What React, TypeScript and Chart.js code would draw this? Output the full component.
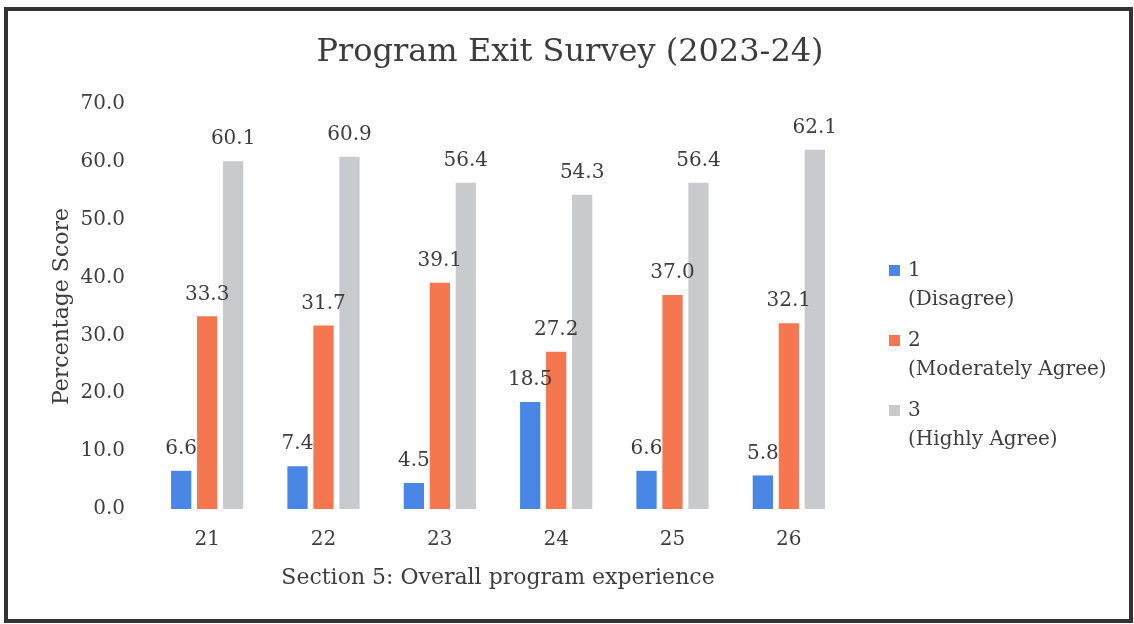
import React, { useEffect, useRef } from "react";
import { Chart, registerables } from "chart.js";

Chart.register(...registerables);

const categories = ["21", "22", "23", "24", "25", "26"];
const disagree = [6.6, 7.4, 4.5, 18.5, 6.6, 5.8];
const moderatelyAgree = [33.3, 31.7, 39.1, 27.2, 37.0, 32.1];
const highlyAgree = [60.1, 60.9, 56.4, 54.3, 56.4, 62.1];
const seriesLabels = [
  ["1", "(Disagree)"],
  ["2", "(Moderately Agree)"],
  ["3", "(Highly Agree)"],
];
const seriesColors = ["#4a86e6", "#f47750", "#c9cacd"];
const titleText = "Program Exit Survey (2023-24)";
const xTitle = "Section 5: Overall program experience";
const yTitle = "Percentage Score";

const FONT = "'DejaVu Serif', serif";
const TEXT = "#3d3d3d";

const framePlugin = {
  id: "frame",
  beforeDraw(chart: any) {
    const ctx = chart.ctx;
    ctx.save();
    ctx.fillStyle = "#ffffff";
    ctx.fillRect(0, 0, chart.width, chart.height);
    ctx.strokeStyle = "#333333";
    ctx.lineWidth = 4;
    ctx.strokeRect(6, 9, chart.width - 6 - 3, chart.height - 9 - 3);
    ctx.restore();
  },
};

const centeredTitlePlugin = {
  id: "centeredTitle",
  afterDraw(chart: any) {
    const ctx = chart.ctx;
    ctx.save();
    ctx.font = `32px ${FONT}`;
    ctx.fillStyle = TEXT;
    ctx.textAlign = "center";
    ctx.textBaseline = "middle";
    ctx.fillText(titleText, 570, 53);
    ctx.restore();
  },
};

const valueLabelPlugin = {
  id: "valueLabels",
  afterDatasetsDraw(chart: any) {
    const ctx = chart.ctx;
    ctx.save();
    ctx.font = `20px ${FONT}`;
    ctx.fillStyle = TEXT;
    ctx.textAlign = "center";
    ctx.textBaseline = "middle";
    chart.data.datasets.forEach((ds: any, i: number) => {
      const meta = chart.getDatasetMeta(i);
      meta.data.forEach((bar: any, j: number) => {
        const v = ds.data[j];
        ctx.fillText(Number(v).toFixed(1), bar.x, bar.y - 22);
      });
    });
    ctx.restore();
  },
};

const sideLegendPlugin = {
  id: "sideLegend",
  afterDraw(chart: any) {
    const ctx = chart.ctx;
    const area = chart.chartArea;
    const boxX = area.right + 42;
    const textX = boxX + 19;
    let y = area.top + 167;
    ctx.save();
    ctx.font = `20px ${FONT}`;
    ctx.textAlign = "left";
    ctx.textBaseline = "middle";
    chart.data.datasets.forEach((ds: any, i: number) => {
      ctx.fillStyle = ds.backgroundColor;
      ctx.fillRect(boxX, y - 6, 11, 11);
      ctx.fillStyle = TEXT;
      const lines = seriesLabels[i];
      lines.forEach((line, k) => {
        ctx.fillText(line, textX, y + k * 29);
      });
      y += 70;
    });
    ctx.restore();
  },
};

export default function App() {
  const ref = useRef<HTMLCanvasElement | null>(null);

  useEffect(() => {
    if (!ref.current) return;
    const chart = new Chart(ref.current, {
      type: "bar",
      data: {
        labels: categories,
        datasets: [
          { label: seriesLabels[0].join(" "), data: disagree, backgroundColor: seriesColors[0] },
          { label: seriesLabels[1].join(" "), data: moderatelyAgree, backgroundColor: seriesColors[1] },
          { label: seriesLabels[2].join(" "), data: highlyAgree, backgroundColor: seriesColors[2] },
        ],
      },
      options: {
        responsive: false,
        animation: false,
        layout: { padding: { left: 49, right: 287, top: 104, bottom: 20 } },
        datasets: {
          bar: { categoryPercentage: 0.67, barPercentage: 0.78 },
        },
        plugins: {
          legend: { display: false },
          tooltip: { enabled: false },
          title: { display: false },
        },
        scales: {
          x: {
            grid: { display: false },
            border: { display: false },
            ticks: { color: TEXT, font: { family: FONT, size: 20 }, padding: 11 },
            title: {
              display: true,
              text: xTitle,
              color: TEXT,
              font: { family: FONT, size: 22 },
              padding: { top: 0, bottom: 13 },
            },
            afterFit(scale: any) {
              scale.height = 95;
            },
          },
          y: {
            min: 0,
            max: 70,
            grid: { display: false },
            border: { display: false },
            ticks: {
              stepSize: 10,
              color: TEXT,
              font: { family: FONT, size: 20 },
              padding: 16,
              callback: (v: any) => Number(v).toFixed(1),
            },
            title: {
              display: true,
              text: yTitle,
              color: TEXT,
              font: { family: FONT, size: 22 },
              padding: { top: 0, bottom: 0 },
            },
            afterFit(scale: any) {
              scale.width = 100;
            },
          },
        },
      },
      plugins: [framePlugin, centeredTitlePlugin, valueLabelPlugin, sideLegendPlugin],
    } as any);
    return () => chart.destroy();
  }, []);

  return (
    <div style={{ position: "absolute", left: 0, top: 0, width: 1134, height: 624 }}>
      <canvas ref={ref} width={1134} height={624} />
    </div>
  );
}
